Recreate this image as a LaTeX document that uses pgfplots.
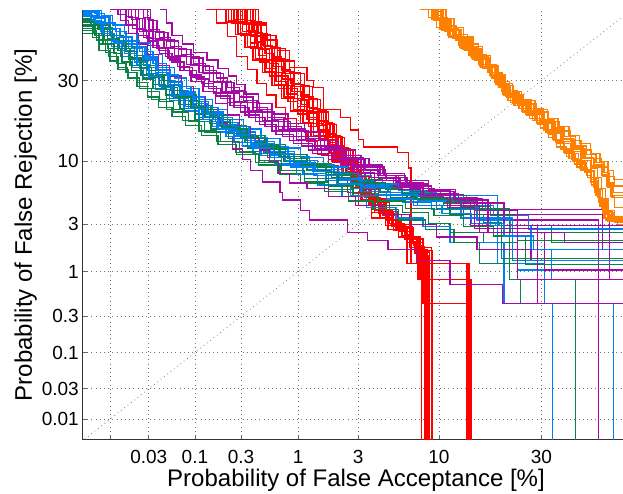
\documentclass[border=0pt]{standalone}
\usepackage{pgfplots}
\pgfplotsset{compat=1.18}
\usepackage{fontspec}
\setmainfont{Liberation Sans}

% DET curves, both axes in normal deviates (probit of the error rate)
\definecolor{detred}{RGB}{255,0,0}
\definecolor{detorange}{RGB}{255,128,0}
\definecolor{detgreen}{RGB}{10,130,70}
\definecolor{detblue}{RGB}{0,128,240}
\definecolor{detpurple}{RGB}{165,10,165}

\pgfplotsset{
  det/.style={const plot, mark=none, line width=1.3pt},
  red det/.style={det, draw=detred},
  orange det/.style={det, draw=detorange},
  green det/.style={det, draw=detgreen},
  blue det/.style={det, draw=detblue},
  purple det/.style={det, draw=detpurple},
}

\begin{document}
\begin{tikzpicture}
\useasboundingbox (-83pt,-54pt) rectangle (540pt,440pt);
\begin{axis}[
  at={(0pt,0pt)}, anchor=south west,
  scale only axis, width=540pt, height=430pt,
  xmin=-3.919, xmax=0.081, ymin=-3.915, ymax=0.142,
  axis x line*=bottom, axis y line*=left,
  axis line style={black!80, line width=1pt, -},
  xtick={-3.719,-3.432,-3.090,-2.748,-2.326,-1.881,-1.282,-0.524},
  xticklabels={{},0.03,0.1,0.3,1,3,10,30},
  ytick={-3.719,-3.432,-3.090,-2.748,-2.326,-1.881,-1.282,-0.524},
  yticklabels={0.01,0.03,0.1,0.3,1,3,10,30},
  tick align=inside, major tick length=5pt,
  tick style={black!60, line width=0.8pt},
  grid=major,
  grid style={black!55, line width=0.7pt, dash pattern=on 0.8pt off 3.4pt},
  ticklabel style={font=\fontsize{19}{19}\selectfont, inner sep=0pt},
  yticklabel style={xshift=-4pt},
  xticklabel style={yshift=-10pt},
  xlabel={Probability of False Acceptance [\%]},
  ylabel={Probability of False Rejection [\%]},
  label style={font=\fontsize{24}{24}\selectfont},
  xlabel style={at={(axis description cs:0.5,0)}, anchor=base, yshift=-47pt, xshift=3pt},
  ylabel style={at={([xshift=-51pt]axis description cs:0,0.5)}, anchor=base},
  clip=true,
]

% equal error rate diagonal
\addplot[black!55, line width=0.7pt, dash pattern=on 0.8pt off 3.4pt]
  coordinates {(-4.2,-4.2) (0.3,0.3)};

% ---------------- red system ----------------
\addplot[red det] coordinates {(-3.01,0.15) (-2.93,0.02) (-2.85,-0.11) (-2.78,-0.30) (-2.70,-0.42) (-2.63,-0.55) (-2.56,-0.66) (-2.49,-0.78) (-2.42,-0.88) (-2.34,-1.00) (-2.26,-1.10) (-2.18,-1.22) (-2.10,-1.33) (-2.03,-1.45) (-1.96,-1.58) (-1.88,-1.70) (-1.78,-1.82) (-1.66,-1.93) (-1.54,-2.02) (-1.44,-2.10) (-1.41,-4.5)};
\addplot[red det] coordinates {(-2.90,0.15) (-2.84,0.04) (-2.77,-0.08) (-2.70,-0.20) (-2.64,-0.32) (-2.57,-0.44) (-2.50,-0.56) (-2.43,-0.68) (-2.36,-0.80) (-2.29,-0.92) (-2.21,-1.04) (-2.13,-1.16) (-2.06,-1.28) (-1.99,-1.40) (-1.92,-1.53) (-1.85,-1.65) (-1.76,-1.77) (-1.66,-1.89) (-1.56,-2.00) (-1.50,-2.10) (-1.45,-2.25) (-1.06,-4.5)};
\addplot[red det] coordinates {(-2.84,0.15) (-2.78,0.03) (-2.71,-0.09) (-2.65,-0.21) (-2.59,-0.33) (-2.52,-0.45) (-2.45,-0.57) (-2.38,-0.69) (-2.31,-0.81) (-2.24,-0.93) (-2.17,-1.05) (-2.10,-1.17) (-2.03,-1.29) (-1.96,-1.41) (-1.89,-1.54) (-1.82,-1.66) (-1.73,-1.78) (-1.63,-1.90) (-1.52,-2.01) (-1.43,-2.12) (-1.38,-4.5)};
\addplot[red det] coordinates {(-2.80,0.15) (-2.74,0.01) (-2.67,-0.11) (-2.60,-0.23) (-2.54,-0.36) (-2.47,-0.48) (-2.40,-0.60) (-2.33,-0.71) (-2.26,-0.83) (-2.19,-0.95) (-2.12,-1.08) (-2.05,-1.20) (-1.99,-1.31) (-1.92,-1.44) (-1.86,-1.57) (-1.79,-1.69) (-1.70,-1.80) (-1.60,-1.92) (-1.50,-2.04) (-1.42,-2.40) (-1.05,-4.5)};
\addplot[red det] coordinates {(-2.76,0.15) (-2.70,0.02) (-2.63,-0.10) (-2.57,-0.22) (-2.50,-0.34) (-2.43,-0.46) (-2.36,-0.58) (-2.29,-0.70) (-2.22,-0.82) (-2.15,-0.94) (-2.09,-1.06) (-2.03,-1.18) (-1.97,-1.30) (-1.91,-1.43) (-1.85,-1.55) (-1.78,-1.67) (-1.69,-1.79) (-1.59,-1.91) (-1.49,-2.02) (-1.40,-2.14) (-1.35,-4.5)};
\addplot[red det] coordinates {(-2.86,0.15) (-2.80,0.05) (-2.74,-0.06) (-2.68,-0.17) (-2.62,-0.29) (-2.56,-0.41) (-2.49,-0.53) (-2.41,-0.65) (-2.33,-0.77) (-2.26,-0.89) (-2.18,-1.01) (-2.11,-1.13) (-2.04,-1.25) (-1.97,-1.38) (-1.90,-1.50) (-1.83,-1.63) (-1.75,-1.75) (-1.65,-1.87) (-1.55,-1.99) (-1.47,-2.08) (-1.41,-2.63) (-1.04,-4.5)};
\addplot[red det] coordinates {(-2.72,0.15) (-2.66,0.03) (-2.60,-0.09) (-2.53,-0.21) (-2.46,-0.33) (-2.39,-0.45) (-2.31,-0.57) (-2.24,-0.69) (-2.18,-0.81) (-2.12,-0.93) (-2.06,-1.05) (-2.00,-1.17) (-1.94,-1.29) (-1.88,-1.42) (-1.82,-1.54) (-1.75,-1.66) (-1.67,-1.78) (-1.58,-1.90) (-1.48,-2.01) (-1.42,-2.12) (-1.37,-4.5)};
\addplot[red det] coordinates {(-2.88,0.15) (-2.82,0.02) (-2.75,-0.10) (-2.68,-0.22) (-2.61,-0.35) (-2.54,-0.48) (-2.47,-0.60) (-2.40,-0.72) (-2.33,-0.84) (-2.25,-0.96) (-2.17,-1.08) (-2.09,-1.20) (-2.01,-1.32) (-1.94,-1.45) (-1.87,-1.58) (-1.80,-1.70) (-1.72,-1.82) (-1.62,-1.94) (-1.52,-2.05) (-1.46,-2.15) (-1.40,-2.63) (-1.06,-4.5)};
\addplot[red det] coordinates {(-2.70,0.15) (-2.64,0.00) (-2.56,-0.14) (-2.48,-0.24) (-2.39,-0.40) (-2.26,-0.52) (-2.21,-0.59) (-2.14,-0.80) (-2.01,-0.87) (-1.94,-0.99) (-1.88,-1.08) (-1.84,-1.15) (-1.59,-1.20) (-1.51,-1.35) (-1.49,-2.25) (-1.07,-4.5)};
\addplot[red det] coordinates {(-2.79,0.15) (-2.72,0.04) (-2.66,-0.07) (-2.59,-0.19) (-2.52,-0.30) (-2.45,-0.42) (-2.38,-0.55) (-2.31,-0.66) (-2.25,-0.78) (-2.18,-0.90) (-2.11,-1.02) (-2.05,-1.14) (-1.98,-1.26) (-1.92,-1.38) (-1.86,-1.51) (-1.79,-1.64) (-1.71,-1.76) (-1.62,-1.88) (-1.53,-1.99) (-1.47,-2.07) (-1.43,-2.40) (-1.07,-4.5)};
\addplot[red det] coordinates {(-2.83,0.15) (-2.77,0.05) (-2.71,-0.05) (-2.64,-0.16) (-2.57,-0.27) (-2.51,-0.39) (-2.44,-0.51) (-2.37,-0.63) (-2.30,-0.75) (-2.24,-0.87) (-2.17,-0.99) (-2.10,-1.11) (-2.04,-1.23) (-1.97,-1.35) (-1.91,-1.48) (-1.84,-1.60) (-1.76,-1.72) (-1.67,-1.84) (-1.57,-1.95) (-1.48,-2.05) (-1.40,-2.18) (-1.36,-4.5)};
\addplot[red det] coordinates {(-2.74,0.15) (-2.68,0.03) (-2.62,-0.08) (-2.55,-0.20) (-2.48,-0.32) (-2.42,-0.44) (-2.35,-0.56) (-2.28,-0.68) (-2.21,-0.80) (-2.14,-0.92) (-2.07,-1.04) (-2.01,-1.16) (-1.95,-1.28) (-1.89,-1.40) (-1.83,-1.52) (-1.76,-1.64) (-1.68,-1.76) (-1.59,-1.88) (-1.50,-2.00) (-1.42,-2.10) (-1.34,-4.5)};
\addplot[red det] coordinates {(-2.93,0.15) (-2.86,0.03) (-2.79,-0.09) (-2.72,-0.21) (-2.66,-0.33) (-2.59,-0.45) (-2.52,-0.57) (-2.45,-0.69) (-2.38,-0.81) (-2.31,-0.93) (-2.23,-1.05) (-2.16,-1.17) (-2.08,-1.29) (-2.00,-1.41) (-1.93,-1.53) (-1.86,-1.65) (-1.78,-1.77) (-1.68,-1.89) (-1.58,-2.00) (-1.52,-2.25) (-1.08,-4.5)};
\addplot[red det] coordinates {(-2.81,0.15) (-2.75,0.02) (-2.69,-0.10) (-2.63,-0.22) (-2.56,-0.33) (-2.49,-0.45) (-2.42,-0.57) (-2.35,-0.69) (-2.28,-0.81) (-2.21,-0.93) (-2.14,-1.05) (-2.07,-1.17) (-2.00,-1.29) (-1.93,-1.41) (-1.87,-1.53) (-1.80,-1.65) (-1.72,-1.77) (-1.63,-1.89) (-1.53,-2.00) (-1.45,-2.09) (-1.39,-4.5)};
\addplot[red det] coordinates {(-2.77,0.15) (-2.71,0.04) (-2.65,-0.08) (-2.58,-0.20) (-2.52,-0.31) (-2.45,-0.43) (-2.38,-0.55) (-2.31,-0.67) (-2.24,-0.79) (-2.17,-0.91) (-2.11,-1.03) (-2.04,-1.15) (-1.98,-1.27) (-1.92,-1.39) (-1.86,-1.51) (-1.80,-1.63) (-1.72,-1.75) (-1.63,-1.87) (-1.54,-1.98) (-1.48,-2.06) (-1.44,-2.40) (-1.04,-4.5)};
\addplot[red det] coordinates {(-2.68,0.15) (-2.62,0.02) (-2.56,-0.10) (-2.49,-0.22) (-2.42,-0.34) (-2.35,-0.46) (-2.28,-0.58) (-2.22,-0.70) (-2.16,-0.82) (-2.10,-0.94) (-2.04,-1.06) (-1.98,-1.18) (-1.92,-1.30) (-1.86,-1.43) (-1.80,-1.55) (-1.73,-1.67) (-1.65,-1.79) (-1.56,-1.91) (-1.47,-2.02) (-1.40,-2.13) (-1.33,-4.5)};

% ---------------- green, blue and purple systems ----------------
\addplot[green det] coordinates {(-3.95,0.0) (-3.85,-0.12) (-3.80,-0.24) (-3.72,-0.34) (-3.66,-0.42) (-3.58,-0.50) (-3.52,-0.58) (-3.44,-0.68) (-3.36,-0.78) (-3.26,-0.86) (-3.16,-0.95) (-3.04,-1.04) (-2.92,-1.13) (-2.78,-1.22) (-2.62,-1.32) (-2.46,-1.41) (-2.28,-1.48) (-2.10,-1.55) (-1.92,-1.62) (-1.74,-1.70) (-1.55,-1.77) (-1.36,-1.87) (-1.20,-1.96) (-0.95,-2.05) (-0.70,-2.40) (-0.27,-4.5)};
\addplot[blue det] coordinates {(-3.95,0.10) (-3.85,0.07) (-3.78,-0.02) (-3.70,-0.10) (-3.62,-0.18) (-3.52,-0.29) (-3.42,-0.40) (-3.33,-0.52) (-3.24,-0.62) (-3.14,-0.72) (-3.04,-0.82) (-2.94,-0.91) (-2.83,-1.00) (-2.71,-1.09) (-2.57,-1.19) (-2.42,-1.28) (-2.26,-1.36) (-2.10,-1.45) (-1.94,-1.61) (-0.85,-2.25) (-0.50,-2.63) (-0.44,-4.5)};
\addplot[purple det] coordinates {(-3.35,0.15) (-3.30,0.02) (-3.26,-0.10) (-3.18,-0.18) (-3.10,-0.26) (-3.00,-0.33) (-2.92,-0.41) (-2.84,-0.48) (-2.78,-0.56) (-2.72,-0.65) (-2.62,-0.74) (-2.52,-0.84) (-2.40,-0.93) (-2.28,-1.01) (-2.16,-1.09) (-2.03,-1.18) (-1.90,-1.26) (-1.80,-1.34) (-1.72,-1.42) (-1.60,-1.50) (-1.44,-1.56) (-1.20,-1.74) (-0.07,-2.12) (0.2,-2.12)};
\addplot[green det] coordinates {(-3.95,0.04) (-3.80,-0.02) (-3.76,-0.14) (-3.66,-0.24) (-3.58,-0.32) (-3.50,-0.41) (-3.43,-0.49) (-3.35,-0.58) (-3.25,-0.68) (-3.14,-0.77) (-3.02,-0.87) (-2.90,-0.96) (-2.76,-1.05) (-2.62,-1.14) (-2.47,-1.24) (-2.30,-1.33) (-2.12,-1.41) (-1.94,-1.48) (-1.76,-1.54) (-1.56,-1.60) (-1.32,-1.66) (-1.00,-1.74) (-0.76,-1.96) (0.2,-1.96)};
\addplot[blue det] coordinates {(-3.95,0.13) (-3.80,0.08) (-3.72,-0.03) (-3.64,-0.11) (-3.55,-0.20) (-3.45,-0.30) (-3.36,-0.42) (-3.27,-0.53) (-3.18,-0.63) (-3.09,-0.72) (-2.99,-0.82) (-2.88,-0.92) (-2.77,-1.01) (-2.64,-1.10) (-2.50,-1.19) (-2.35,-1.28) (-2.18,-1.36) (-2.00,-1.44) (-1.82,-1.51) (-1.64,-1.58) (-1.45,-1.64) (-1.25,-1.70) (-1.02,-1.79) (-0.80,-1.92) (0.2,-1.92)};
\addplot[purple det] coordinates {(-3.72,0.15) (-3.66,0.10) (-3.60,0.00) (-3.52,-0.10) (-3.44,-0.19) (-3.35,-0.27) (-3.26,-0.35) (-3.17,-0.43) (-3.08,-0.51) (-2.99,-0.60) (-2.90,-0.69) (-2.80,-0.78) (-2.69,-0.87) (-2.57,-0.96) (-2.44,-1.05) (-2.30,-1.14) (-2.15,-1.23) (-2.00,-1.32) (-1.84,-1.40) (-1.67,-1.47) (-1.50,-1.54) (-1.32,-1.60) (-1.10,-1.79) (-0.02,-2.40) (0.2,-2.40)};
\addplot[green det] coordinates {(-3.95,-0.03) (-3.83,-0.10) (-3.74,-0.22) (-3.64,-0.30) (-3.57,-0.38) (-3.49,-0.47) (-3.40,-0.56) (-3.31,-0.66) (-3.21,-0.75) (-3.09,-0.84) (-2.98,-0.93) (-2.86,-1.02) (-2.72,-1.11) (-2.58,-1.20) (-2.43,-1.29) (-2.26,-1.37) (-2.08,-1.44) (-1.90,-1.52) (-1.72,-1.58) (-1.52,-1.64) (-1.30,-1.73) (-0.76,-2.40) (-0.68,-2.63) (0.2,-2.63)};
\addplot[blue det] coordinates {(-3.95,0.08) (-3.84,0.02) (-3.78,-0.10) (-3.71,-0.20) (-3.63,-0.30) (-3.55,-0.40) (-3.47,-0.50) (-3.38,-0.61) (-3.28,-0.71) (-3.17,-0.81) (-3.06,-0.91) (-2.93,-1.01) (-2.80,-1.11) (-2.66,-1.21) (-2.50,-1.31) (-2.34,-1.41) (-2.18,-1.51) (-2.00,-1.62) (-1.82,-1.72) (-1.60,-1.82) (-1.40,-1.90) (-1.20,-2.05) (-0.80,-2.63) (0.01,-4.5)};
\addplot[purple det] coordinates {(-3.60,0.15) (-3.53,0.06) (-3.48,-0.05) (-3.40,-0.13) (-3.32,-0.21) (-3.24,-0.29) (-3.15,-0.37) (-3.06,-0.45) (-2.98,-0.53) (-2.89,-0.63) (-2.80,-0.72) (-2.70,-0.81) (-2.59,-0.90) (-2.47,-0.99) (-2.34,-1.08) (-2.20,-1.17) (-2.05,-1.26) (-1.90,-1.34) (-1.74,-1.42) (-1.58,-1.49) (-1.40,-1.57) (-1.20,-1.63) (-1.00,-1.84) (-0.10,-4.5)};
\addplot[green det] coordinates {(-3.95,0.06) (-3.86,0.00) (-3.72,-0.10) (-3.62,-0.20) (-3.54,-0.29) (-3.47,-0.38) (-3.38,-0.47) (-3.29,-0.57) (-3.19,-0.66) (-3.08,-0.76) (-2.97,-0.85) (-2.85,-0.95) (-2.71,-1.04) (-2.57,-1.13) (-2.42,-1.22) (-2.26,-1.31) (-2.08,-1.39) (-1.90,-1.46) (-1.70,-1.52) (-1.50,-1.57) (-1.27,-1.61) (-1.08,-1.68) (-0.90,-1.74) (-0.76,-2.12) (0.2,-2.12)};
\addplot[blue det] coordinates {(-3.95,0.12) (-3.82,0.06) (-3.75,-0.04) (-3.67,-0.12) (-3.58,-0.22) (-3.48,-0.33) (-3.38,-0.45) (-3.29,-0.56) (-3.20,-0.66) (-3.11,-0.76) (-3.01,-0.86) (-2.91,-0.95) (-2.80,-1.04) (-2.68,-1.13) (-2.54,-1.22) (-2.39,-1.31) (-2.22,-1.38) (-2.04,-1.45) (-1.86,-1.52) (-1.66,-1.58) (-1.44,-1.66) (-1.22,-1.74) (-1.00,-1.84) (-0.75,-1.96) (-0.55,-2.03) (0.2,-2.03)};
\addplot[purple det] coordinates {(-3.66,0.15) (-3.60,0.08) (-3.55,-0.03) (-3.47,-0.12) (-3.40,-0.21) (-3.31,-0.30) (-3.22,-0.39) (-3.13,-0.47) (-3.04,-0.55) (-2.95,-0.64) (-2.85,-0.73) (-2.75,-0.82) (-2.64,-0.91) (-2.52,-1.00) (-2.39,-1.09) (-2.25,-1.18) (-2.10,-1.27) (-1.95,-1.36) (-1.79,-1.44) (-1.62,-1.52) (-1.45,-1.60) (-1.25,-1.68) (-1.05,-1.89) (-0.55,-2.03) (0.2,-2.03)};
\addplot[green det] coordinates {(-3.95,-0.08) (-3.80,-0.18) (-3.73,-0.30) (-3.66,-0.40) (-3.59,-0.50) (-3.50,-0.60) (-3.41,-0.70) (-3.30,-0.80) (-3.18,-0.90) (-3.06,-1.00) (-2.93,-1.10) (-2.79,-1.20) (-2.64,-1.30) (-2.48,-1.40) (-2.31,-1.49) (-2.13,-1.57) (-1.95,-1.66) (-1.77,-1.74) (-1.58,-1.84) (-1.38,-1.93) (-1.17,-2.05) (-0.98,-2.25) (-0.70,-2.31) (0.2,-2.31)};
\addplot[blue det] coordinates {(-3.95,0.14) (-3.78,0.09) (-3.70,0.00) (-3.61,-0.08) (-3.52,-0.17) (-3.42,-0.28) (-3.33,-0.40) (-3.24,-0.50) (-3.15,-0.60) (-3.06,-0.70) (-2.96,-0.80) (-2.85,-0.89) (-2.73,-0.98) (-2.60,-1.07) (-2.46,-1.16) (-2.31,-1.25) (-2.14,-1.34) (-1.96,-1.42) (-1.78,-1.50) (-1.58,-1.56) (-1.38,-1.61) (-1.16,-1.68) (-0.94,-1.75) (-0.70,-2.31) (0.2,-2.31)};
\addplot[purple det] coordinates {(-3.70,0.15) (-3.64,0.04) (-3.58,-0.08) (-3.51,-0.18) (-3.44,-0.28) (-3.36,-0.38) (-3.28,-0.48) (-3.19,-0.58) (-3.10,-0.68) (-3.01,-0.80) (-2.92,-0.92) (-2.86,-1.05) (-2.81,-1.17) (-2.74,-1.27) (-2.68,-1.37) (-2.59,-1.48) (-2.46,-1.58) (-2.44,-1.65) (-2.31,-1.75) (-2.24,-1.84) (-1.96,-1.96) (-1.81,-2.03) (-1.66,-2.12) (-1.45,-2.22) (-1.20,-2.45) (-0.81,-2.63) (0.2,-2.63)};
\addplot[green det] coordinates {(-3.95,0.03) (-3.81,-0.04) (-3.70,-0.15) (-3.60,-0.25) (-3.52,-0.34) (-3.44,-0.43) (-3.36,-0.52) (-3.27,-0.62) (-3.17,-0.71) (-3.06,-0.80) (-2.95,-0.89) (-2.83,-0.98) (-2.70,-1.07) (-2.56,-1.17) (-2.40,-1.26) (-2.24,-1.34) (-2.06,-1.42) (-1.88,-1.49) (-1.68,-1.55) (-1.48,-1.62) (-1.25,-1.68) (-1.02,-1.75) (-0.84,-1.89) (-0.45,-2.05) (0.2,-2.05)};
\addplot[blue det] coordinates {(-3.95,0.11) (-3.86,0.04) (-3.79,-0.06) (-3.71,-0.15) (-3.63,-0.24) (-3.54,-0.35) (-3.45,-0.46) (-3.36,-0.57) (-3.26,-0.67) (-3.16,-0.77) (-3.06,-0.87) (-2.96,-0.96) (-2.86,-1.05) (-2.74,-1.14) (-2.60,-1.23) (-2.45,-1.32) (-2.29,-1.40) (-2.12,-1.47) (-1.94,-1.54) (-1.75,-1.60) (-1.55,-1.67) (-1.34,-1.74) (-1.12,-1.82) (-0.90,-1.89) (-0.60,-2.12) (-0.45,-2.40) (0.2,-2.40)};
\addplot[purple det] coordinates {(-3.62,0.15) (-3.56,0.05) (-3.50,-0.06) (-3.43,-0.15) (-3.36,-0.24) (-3.28,-0.33) (-3.20,-0.43) (-3.12,-0.53) (-3.03,-0.63) (-2.94,-0.74) (-2.85,-0.85) (-2.76,-0.96) (-2.68,-1.07) (-2.61,-1.18) (-2.54,-1.29) (-2.47,-1.40) (-2.39,-1.49) (-2.26,-1.54) (-2.10,-1.62) (-1.90,-1.70) (-1.70,-1.79) (-1.50,-1.88) (-1.30,-2.00) (-1.00,-2.12) (-0.60,-2.22) (0.2,-2.22)};
\addplot[green det] coordinates {(-3.95,-0.01) (-3.84,-0.08) (-3.77,-0.18) (-3.69,-0.27) (-3.63,-0.35) (-3.56,-0.43) (-3.48,-0.51) (-3.40,-0.60) (-3.30,-0.69) (-3.20,-0.79) (-3.09,-0.89) (-2.97,-0.98) (-2.84,-1.07) (-2.70,-1.16) (-2.55,-1.25) (-2.38,-1.34) (-2.21,-1.42) (-2.03,-1.50) (-1.84,-1.57) (-1.64,-1.63) (-1.44,-1.70) (-1.20,-1.79) (-0.95,-1.86) (-0.82,-2.20) (0.2,-2.20)};
\addplot[blue det] coordinates {(-3.95,0.13) (-3.83,0.11) (-3.76,0.02) (-3.68,-0.06) (-3.60,-0.15) (-3.50,-0.25) (-3.40,-0.36) (-3.30,-0.47) (-3.21,-0.58) (-3.12,-0.68) (-3.02,-0.78) (-2.92,-0.87) (-2.81,-0.96) (-2.69,-1.06) (-2.55,-1.15) (-2.40,-1.24) (-2.24,-1.32) (-2.06,-1.40) (-1.88,-1.47) (-1.70,-1.53) (-1.50,-1.58) (-1.30,-1.63) (-1.10,-1.70) (-0.88,-1.80) (-0.62,-1.93) (0.2,-1.93)};
\addplot[purple det] coordinates {(-3.54,0.15) (-3.47,0.07) (-3.43,-0.04) (-3.35,-0.12) (-3.27,-0.20) (-3.19,-0.28) (-3.10,-0.36) (-3.01,-0.43) (-2.93,-0.50) (-2.85,-0.59) (-2.76,-0.68) (-2.66,-0.78) (-2.55,-0.87) (-2.43,-0.96) (-2.30,-1.05) (-2.16,-1.14) (-2.01,-1.23) (-1.86,-1.32) (-1.70,-1.40) (-1.54,-1.47) (-1.36,-1.55) (-1.16,-1.68) (-0.80,-1.89) (0.2,-1.89)};
\addplot[green det] coordinates {(-3.95,0.05) (-3.83,-0.03) (-3.74,-0.13) (-3.65,-0.22) (-3.57,-0.31) (-3.49,-0.40) (-3.41,-0.49) (-3.32,-0.59) (-3.22,-0.68) (-3.12,-0.78) (-3.01,-0.87) (-2.89,-0.97) (-2.75,-1.06) (-2.61,-1.15) (-2.46,-1.24) (-2.30,-1.32) (-2.12,-1.39) (-1.94,-1.46) (-1.75,-1.53) (-1.55,-1.59) (-1.34,-1.64) (-1.12,-1.71) (-0.90,-1.80) (-0.70,-2.03) (0.2,-2.03)};
\addplot[blue det] coordinates {(-3.95,0.12) (-3.81,0.07) (-3.73,-0.03) (-3.65,-0.12) (-3.56,-0.21) (-3.46,-0.31) (-3.37,-0.43) (-3.28,-0.54) (-3.19,-0.64) (-3.10,-0.74) (-3.00,-0.84) (-2.89,-0.94) (-2.78,-1.03) (-2.65,-1.12) (-2.51,-1.21) (-2.36,-1.30) (-2.20,-1.38) (-2.02,-1.46) (-1.84,-1.53) (-1.64,-1.60) (-1.44,-1.66) (-1.22,-1.72) (-0.98,-1.82) (-0.74,-2.22) (0.2,-2.22)};
\addplot[purple det] coordinates {(-3.47,0.15) (-3.42,0.04) (-3.37,-0.07) (-3.29,-0.15) (-3.21,-0.23) (-3.12,-0.31) (-3.03,-0.39) (-2.95,-0.46) (-2.88,-0.54) (-2.80,-0.63) (-2.71,-0.73) (-2.61,-0.82) (-2.50,-0.91) (-2.38,-1.00) (-2.25,-1.09) (-2.11,-1.18) (-1.97,-1.27) (-1.83,-1.36) (-1.68,-1.44) (-1.52,-1.52) (-1.34,-1.59) (-1.14,-1.65) (-0.92,-1.96) (-0.50,-2.31) (0.2,-2.31)};
\addplot[green det] coordinates {(-3.95,-0.05) (-3.82,-0.14) (-3.75,-0.26) (-3.67,-0.36) (-3.60,-0.45) (-3.52,-0.54) (-3.44,-0.63) (-3.35,-0.72) (-3.25,-0.82) (-3.14,-0.91) (-3.02,-1.01) (-2.90,-1.10) (-2.76,-1.19) (-2.61,-1.28) (-2.45,-1.37) (-2.28,-1.45) (-2.10,-1.52) (-1.92,-1.59) (-1.73,-1.66) (-1.53,-1.73) (-1.32,-1.80) (-1.10,-1.90) (-0.88,-1.99) (-0.64,-2.26) (0.2,-2.26)};
\addplot[blue det] coordinates {(-3.95,0.09) (-3.83,0.03) (-3.77,-0.08) (-3.69,-0.17) (-3.61,-0.27) (-3.52,-0.37) (-3.43,-0.48) (-3.34,-0.59) (-3.24,-0.69) (-3.14,-0.79) (-3.03,-0.89) (-2.92,-0.98) (-2.80,-1.07) (-2.67,-1.16) (-2.53,-1.25) (-2.38,-1.34) (-2.21,-1.42) (-2.04,-1.50) (-1.86,-1.57) (-1.67,-1.64) (-1.47,-1.70) (-1.26,-1.78) (-1.04,-1.87) (-0.80,-1.99) (-0.58,-2.12) (0.2,-2.12)};
\addplot[purple det] coordinates {(-3.58,0.15) (-3.51,0.06) (-3.46,-0.06) (-3.38,-0.14) (-3.30,-0.22) (-3.21,-0.30) (-3.12,-0.38) (-3.03,-0.46) (-2.95,-0.54) (-2.86,-0.64) (-2.76,-0.73) (-2.66,-0.82) (-2.55,-0.91) (-2.43,-1.00) (-2.30,-1.09) (-2.16,-1.18) (-2.02,-1.28) (-1.88,-1.37) (-1.73,-1.45) (-1.57,-1.53) (-1.40,-1.61) (-1.20,-1.70) (-0.98,-1.96) (-0.35,-2.05) (0.2,-2.05)};
\addplot[purple det] coordinates {(-3.50,0.15) (-3.44,0.05) (-3.40,-0.06) (-3.32,-0.14) (-3.24,-0.22) (-3.15,-0.30) (-3.06,-0.38) (-2.98,-0.45) (-2.90,-0.53) (-2.82,-0.62) (-2.73,-0.71) (-2.63,-0.80) (-2.52,-0.89) (-2.40,-0.98) (-2.27,-1.07) (-2.13,-1.16) (-1.99,-1.25) (-1.84,-1.34) (-1.69,-1.42) (-1.53,-1.50) (-1.36,-1.57) (-1.17,-1.64) (-0.96,-1.75) (-0.70,-2.40) (0.2,-2.40)};
\addplot[purple det] coordinates {(-3.64,0.15) (-3.58,0.07) (-3.52,-0.04) (-3.45,-0.13) (-3.37,-0.22) (-3.29,-0.31) (-3.20,-0.40) (-3.11,-0.49) (-3.02,-0.58) (-2.93,-0.67) (-2.83,-0.76) (-2.72,-0.85) (-2.61,-0.94) (-2.49,-1.03) (-2.36,-1.12) (-2.22,-1.21) (-2.07,-1.30) (-1.92,-1.39) (-1.76,-1.47) (-1.59,-1.55) (-1.42,-1.63) (-1.22,-1.72) (-1.02,-1.92) (-0.55,-2.63) (0.2,-2.63)};

% ---------------- orange system ----------------
\addplot[orange det] coordinates {(-1.42,0.15) (-1.36,0.07) (-1.30,-0.02) (-1.22,-0.10) (-1.14,-0.19) (-1.06,-0.29) (-0.99,-0.37) (-0.92,-0.45) (-0.87,-0.54) (-0.82,-0.63) (-0.77,-0.71) (-0.69,-0.79) (-0.61,-0.88) (-0.53,-0.97) (-0.47,-1.06) (-0.41,-1.15) (-0.34,-1.24) (-0.28,-1.31) (-0.20,-1.39) (-0.16,-1.48) (-0.13,-1.58) (-0.10,-1.67) (-0.07,-1.78) (-0.02,-1.84) (0.2,-1.84)};
\addplot[orange det] coordinates {(-1.38,0.15) (-1.31,0.05) (-1.25,-0.04) (-1.17,-0.12) (-1.08,-0.21) (-1.01,-0.31) (-0.94,-0.39) (-0.87,-0.47) (-0.82,-0.56) (-0.77,-0.65) (-0.71,-0.73) (-0.62,-0.81) (-0.54,-0.91) (-0.45,-0.99) (-0.38,-1.08) (-0.30,-1.17) (-0.22,-1.26) (-0.15,-1.33) (-0.08,-1.42) (-0.04,-1.52) (-0.01,-1.62) (0.02,-1.72) (0.2,-1.72)};
\addplot[orange det] coordinates {(-1.35,0.15) (-1.29,0.07) (-1.22,-0.01) (-1.15,-0.09) (-1.07,-0.18) (-0.99,-0.28) (-0.93,-0.37) (-0.86,-0.45) (-0.81,-0.53) (-0.76,-0.62) (-0.70,-0.70) (-0.60,-0.79) (-0.51,-0.89) (-0.43,-0.97) (-0.35,-1.05) (-0.27,-1.14) (-0.19,-1.22) (-0.12,-1.30) (-0.06,-1.39) (-0.02,-1.49) (0.01,-1.58) (0.2,-1.58)};
\addplot[orange det] coordinates {(-1.32,0.15) (-1.26,0.04) (-1.20,-0.05) (-1.13,-0.13) (-1.05,-0.23) (-0.98,-0.32) (-0.91,-0.40) (-0.85,-0.49) (-0.80,-0.58) (-0.75,-0.67) (-0.68,-0.75) (-0.58,-0.83) (-0.50,-0.92) (-0.42,-1.01) (-0.36,-1.10) (-0.29,-1.19) (-0.23,-1.28) (-0.16,-1.35) (-0.11,-1.44) (-0.08,-1.54) (-0.05,-1.64) (-0.03,-1.75) (0.02,-1.86) (0.2,-1.86)};
\addplot[orange det] coordinates {(-1.40,0.15) (-1.33,0.06) (-1.27,-0.03) (-1.20,-0.11) (-1.12,-0.22) (-1.04,-0.31) (-0.97,-0.40) (-0.90,-0.48) (-0.85,-0.57) (-0.80,-0.66) (-0.74,-0.74) (-0.66,-0.82) (-0.57,-0.90) (-0.50,-0.99) (-0.43,-1.09) (-0.36,-1.18) (-0.30,-1.27) (-0.24,-1.35) (-0.18,-1.44) (-0.14,-1.53) (-0.11,-1.63) (-0.08,-1.73) (-0.05,-1.84) (0.04,-1.88) (0.2,-1.88)};
\addplot[orange det] coordinates {(-1.29,0.15) (-1.23,0.06) (-1.17,-0.02) (-1.10,-0.11) (-1.03,-0.20) (-0.96,-0.29) (-0.90,-0.38) (-0.84,-0.47) (-0.79,-0.55) (-0.74,-0.63) (-0.67,-0.71) (-0.57,-0.80) (-0.48,-0.88) (-0.40,-0.96) (-0.32,-1.04) (-0.24,-1.12) (-0.16,-1.21) (-0.09,-1.29) (-0.03,-1.37) (0.01,-1.46) (0.2,-1.46)};
\addplot[orange det] coordinates {(-1.37,0.15) (-1.30,0.04) (-1.24,-0.06) (-1.16,-0.14) (-1.09,-0.24) (-1.02,-0.33) (-0.95,-0.41) (-0.89,-0.50) (-0.84,-0.59) (-0.78,-0.68) (-0.72,-0.76) (-0.63,-0.85) (-0.55,-0.94) (-0.47,-1.03) (-0.41,-1.12) (-0.35,-1.21) (-0.27,-1.29) (-0.20,-1.37) (-0.13,-1.45) (-0.10,-1.55) (-0.07,-1.65) (-0.04,-1.76) (0.00,-1.83) (0.2,-1.83)};
\addplot[orange det] coordinates {(-1.34,0.15) (-1.27,0.05) (-1.21,-0.04) (-1.14,-0.12) (-1.06,-0.21) (-1.00,-0.31) (-0.92,-0.39) (-0.86,-0.48) (-0.81,-0.57) (-0.76,-0.66) (-0.70,-0.75) (-0.61,-0.84) (-0.52,-0.93) (-0.44,-1.02) (-0.37,-1.12) (-0.31,-1.21) (-0.25,-1.30) (-0.19,-1.38) (-0.14,-1.47) (-0.11,-1.57) (-0.09,-1.67) (-0.06,-1.79) (-0.01,-1.81) (0.2,-1.81)};
\addplot[orange det] coordinates {(-1.39,0.15) (-1.32,0.04) (-1.26,-0.05) (-1.18,-0.13) (-1.11,-0.23) (-1.03,-0.32) (-0.96,-0.41) (-0.89,-0.49) (-0.84,-0.58) (-0.79,-0.67) (-0.73,-0.76) (-0.64,-0.84) (-0.56,-0.93) (-0.48,-1.02) (-0.42,-1.11) (-0.36,-1.20) (-0.29,-1.29) (-0.23,-1.37) (-0.16,-1.46) (-0.12,-1.56) (-0.09,-1.66) (-0.05,-1.77) (0.01,-1.84) (0.2,-1.84)};
\addplot[orange det] coordinates {(-1.36,0.15) (-1.29,0.06) (-1.23,-0.03) (-1.15,-0.11) (-1.07,-0.20) (-1.00,-0.30) (-0.93,-0.38) (-0.87,-0.46) (-0.82,-0.55) (-0.77,-0.64) (-0.70,-0.72) (-0.61,-0.81) (-0.52,-0.90) (-0.44,-0.98) (-0.37,-1.07) (-0.29,-1.16) (-0.21,-1.25) (-0.14,-1.32) (-0.07,-1.41) (-0.03,-1.51) (0.00,-1.61) (0.2,-1.61)};
\addplot[orange det] coordinates {(-1.31,0.15) (-1.25,0.05) (-1.19,-0.04) (-1.12,-0.12) (-1.04,-0.22) (-0.97,-0.31) (-0.90,-0.39) (-0.84,-0.48) (-0.79,-0.57) (-0.73,-0.66) (-0.66,-0.74) (-0.56,-0.82) (-0.47,-0.91) (-0.39,-1.00) (-0.31,-1.09) (-0.23,-1.18) (-0.15,-1.26) (-0.08,-1.34) (-0.03,-1.43) (0.02,-1.52) (0.2,-1.52)};
\addplot[orange det] coordinates {(-1.41,0.15) (-1.34,0.05) (-1.28,-0.04) (-1.21,-0.12) (-1.13,-0.21) (-1.05,-0.30) (-0.98,-0.39) (-0.91,-0.47) (-0.86,-0.56) (-0.81,-0.65) (-0.75,-0.73) (-0.67,-0.81) (-0.59,-0.90) (-0.51,-0.99) (-0.44,-1.08) (-0.38,-1.17) (-0.32,-1.26) (-0.26,-1.34) (-0.19,-1.42) (-0.15,-1.51) (-0.12,-1.61) (-0.09,-1.71) (-0.06,-1.82) (0.03,-1.86) (0.2,-1.86)};
\addplot[orange det] coordinates {(-1.33,0.15) (-1.27,0.06) (-1.21,-0.03) (-1.14,-0.11) (-1.06,-0.20) (-0.99,-0.29) (-0.92,-0.37) (-0.86,-0.46) (-0.81,-0.55) (-0.76,-0.64) (-0.69,-0.72) (-0.60,-0.81) (-0.51,-0.90) (-0.43,-0.99) (-0.36,-1.08) (-0.28,-1.17) (-0.20,-1.26) (-0.13,-1.34) (-0.07,-1.43) (-0.03,-1.53) (0.00,-1.63) (0.2,-1.63)};
\addplot[orange det] coordinates {(-1.37,0.15) (-1.31,0.06) (-1.24,-0.03) (-1.17,-0.12) (-1.10,-0.21) (-1.03,-0.30) (-0.96,-0.39) (-0.89,-0.47) (-0.83,-0.56) (-0.78,-0.65) (-0.72,-0.74) (-0.64,-0.83) (-0.56,-0.92) (-0.49,-1.01) (-0.42,-1.10) (-0.35,-1.19) (-0.28,-1.28) (-0.22,-1.36) (-0.15,-1.44) (-0.12,-1.54) (-0.09,-1.64) (-0.06,-1.74) (-0.03,-1.85) (0.2,-1.85)};

\end{axis}
\end{tikzpicture}
\end{document}
